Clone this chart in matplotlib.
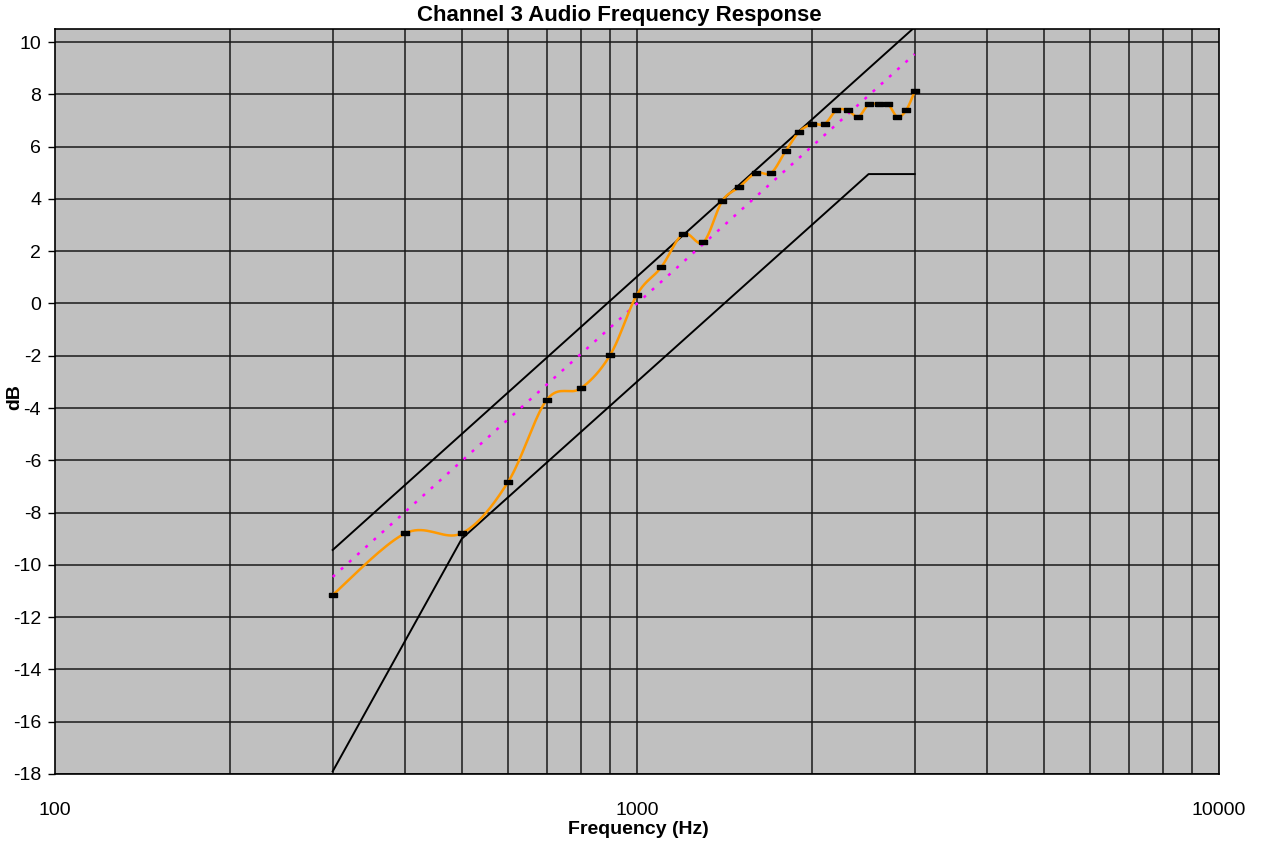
import numpy as np
import matplotlib
matplotlib.use("Agg")
from matplotlib import pyplot as plt
from matplotlib.ticker import FixedLocator, NullFormatter, FixedFormatter

plt.rcParams['font.family'] = ['Liberation Sans', 'DejaVu Sans']
plt.rcParams['axes.unicode_minus'] = False

# Measured response (Hz, dB)
freqs = [300, 400, 500, 600, 700, 800, 900, 1000, 1100, 1200, 1300, 1400, 1500,
         1600, 1700, 1800, 1900, 2000, 2100, 2200, 2300, 2400, 2500, 2600, 2700,
         2800, 2900, 3000]
measured_db = [-11.15, -8.79, -8.79, -6.84, -3.68, -3.25, -1.96, 0.34, 1.38, 2.66,
               2.34, 3.91, 4.46, 4.99, 4.99, 5.83, 6.57, 6.86, 6.86, 7.39, 7.39,
               7.14, 7.62, 7.62, 7.62, 7.14, 7.39, 8.11]

# Ideal pre-emphasis curve and tolerance limits
ideal_freqs = [300, 3000]
ideal_db = [-10.46, 9.54]
upper_freqs = [300, 3000]
upper_db = [-9.43, 10.57]
lower_freqs = [300, 500, 2500, 3000]
lower_db = [-17.9, -9.0, 4.95, 4.95]

y_ticks = list(range(-18, 11, 2))
x_grid = [200, 300, 400, 500, 600, 700, 800, 900, 1000, 2000, 3000, 4000,
          5000, 6000, 7000, 8000, 9000]


def smooth(xs, ys, n=20):
    # Excel-style smoothed line (Catmull-Rom through the points)
    px = np.log10(np.asarray(xs, float))
    py = np.asarray(ys, float)
    px = np.concatenate([[px[0]], px, [px[-1]]])
    py = np.concatenate([[py[0]], py, [py[-1]]])
    ox, oy = [], []
    t = np.linspace(0, 1, n, endpoint=False)
    for i in range(1, len(px) - 2):
        for arr, out in ((px, ox), (py, oy)):
            p0, p1, p2, p3 = arr[i - 1], arr[i], arr[i + 1], arr[i + 2]
            out.extend(0.5 * (2 * p1 + (-p0 + p2) * t
                              + (2 * p0 - 5 * p1 + 4 * p2 - p3) * t ** 2
                              + (-p0 + 3 * p1 - 3 * p2 + p3) * t ** 3))
    ox.append(px[-2])
    oy.append(py[-2])
    return 10 ** np.array(ox), np.array(oy)


fig = plt.figure(figsize=(12.63, 8.43), dpi=100)
ax = fig.add_axes([55 / 1263, 69 / 843, 1164 / 1263, 745 / 843])
ax.set_facecolor('#C0C0C0')

ax.set_xscale('log')
ax.set_xlim(100, 10000)
ax.set_ylim(-18, 10.5)

ax.xaxis.set_major_locator(FixedLocator([100, 1000, 10000]))
ax.xaxis.set_major_formatter(FixedFormatter(['100', '1000', '10000']))
ax.xaxis.set_minor_locator(FixedLocator(x_grid))
ax.xaxis.set_minor_formatter(NullFormatter())
ax.set_yticks(y_ticks)

for f in x_grid:
    ax.axvline(f, color='#1a1a1a', lw=1.1, zorder=1)
for v in y_ticks:
    ax.axhline(v, color='#1a1a1a', lw=1.1, zorder=1)

ax.tick_params(axis='x', which='both', length=0, pad=20, labelsize=14)
ax.tick_params(axis='y', length=5, width=1, pad=5, labelsize=14)

for s in ax.spines.values():
    s.set_color('black')
    s.set_linewidth(1.2)

ax.plot(upper_freqs, upper_db, color='black', lw=1.4, zorder=3)
ax.plot(lower_freqs, lower_db, color='black', lw=1.4, zorder=3)
ax.plot(ideal_freqs, ideal_db, color='#FF00FF', lw=1.8, linestyle=(0, (1.2, 3.2)), zorder=3)

sx, sy = smooth(freqs, measured_db)
ax.plot(sx, sy, color='#FF9900', lw=1.8, zorder=4)
rect = [(-1, -0.4), (1, -0.4), (1, 0.4), (-1, 0.4), (-1, -0.4)]
ax.plot(freqs, measured_db, linestyle='none', marker=rect, markersize=5.5,
        color='black', zorder=5)

fig.text(619 / 1263, 1 - 15 / 843, 'Channel 3 Audio Frequency Response',
         ha='center', va='center', fontsize=16, fontweight='bold')
fig.text(638 / 1263, 1 - 829 / 843, 'Frequency (Hz)', ha='center', va='center',
         fontsize=14, fontweight='bold')
fig.text(15 / 1263, 1 - 397 / 843, 'dB', ha='center', va='center', rotation=90,
         fontsize=14, fontweight='bold')

fig.savefig('out.png', dpi=100)
